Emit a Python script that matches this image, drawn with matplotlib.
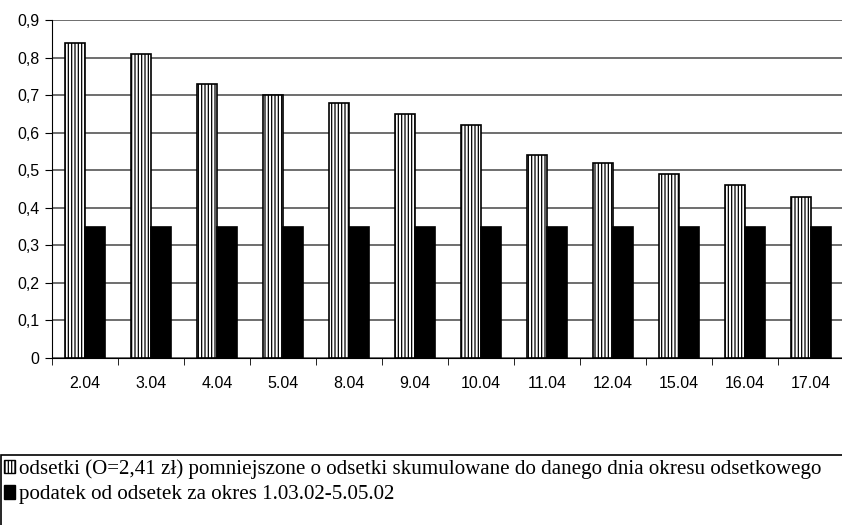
import matplotlib.pyplot as plt
import matplotlib.patches as mpatches
import numpy as np

plt.rcParams['hatch.linewidth'] = 0.9

dates = ['2.04', '3.04', '4.04', '5.04', '8.04', '9.04', '10.04',
         '11.04', '12.04', '15.04', '16.04', '17.04']
odsetki = [0.84, 0.81, 0.73, 0.70, 0.68, 0.65, 0.62, 0.54, 0.52, 0.49, 0.46, 0.43]
podatek = [0.35, 0.35, 0.35, 0.35, 0.35, 0.35, 0.35, 0.35, 0.35, 0.35, 0.35, 0.35]

label_odsetki = 'odsetki (O=2,41 zł) pomniejszone o odsetki skumulowane do danego dnia okresu odsetkowego'
label_podatek = 'podatek od odsetek za okres 1.03.02-5.05.02'

fig = plt.figure(figsize=(8.42, 5.25), dpi=100)
ax = fig.add_axes([52/842, 1-358/525, 792/842, 338/525])

x = np.arange(len(dates))
w = 0.3
ax.bar(x - w/2, odsetki, w, color='white', edgecolor='black', hatch='|||||',
       linewidth=1.2, zorder=3)
ax.bar(x + w/2, podatek, w, color='black', edgecolor='black', linewidth=1.2, zorder=3)

ax.set_xlim(-0.5, len(dates) - 0.5)
ax.set_ylim(0, 0.9)
yt = np.arange(0, 0.91, 0.1)
ax.set_yticks(yt)
ax.set_yticklabels(['0'] + [('%.1f' % v).replace('.', ',') for v in yt[1:]],
                   fontfamily='Liberation Sans', fontsize=11.5)
ax.set_xticks(x)
ax.set_xticklabels(dates, fontfamily='Liberation Sans', fontsize=11.5)
ax.set_xticks(np.arange(-0.5, len(dates), 1), minor=True)
ax.tick_params(axis='x', which='major', length=0, pad=13)
ax.tick_params(axis='x', which='minor', length=5, direction='out', color='black')
ax.tick_params(axis='y', length=5, direction='out', color='black', pad=4)

ax.yaxis.grid(True, color='#555555', linewidth=1.2, zorder=0)
ax.set_axisbelow(True)
for s in ['top', 'right']:
    ax.spines[s].set_visible(False)
ax.spines['left'].set_color('black')
ax.spines['bottom'].set_color('black')

# legend box
fig.patches.append(mpatches.Rectangle((1/842, -0.2), 1.2, 1 - 455/525 + 0.2,
                                      transform=fig.transFigure, fill=False,
                                      edgecolor='black', linewidth=1.2))
h1 = mpatches.Patch(facecolor='white', edgecolor='black', hatch='|||||')
h2 = mpatches.Patch(facecolor='black', edgecolor='black')
fig.legend([h1, h2], [label_odsetki, label_podatek], loc='upper left',
           bbox_to_anchor=(0, 1 - 455/525), frameon=False,
           prop={'family': 'Liberation Serif', 'size': 15.1},
           handlelength=0.5, handleheight=0.6, handletextpad=0.2,
           borderaxespad=0, borderpad=0.2, labelspacing=0.3)

fig.savefig('out.png', dpi=100)
